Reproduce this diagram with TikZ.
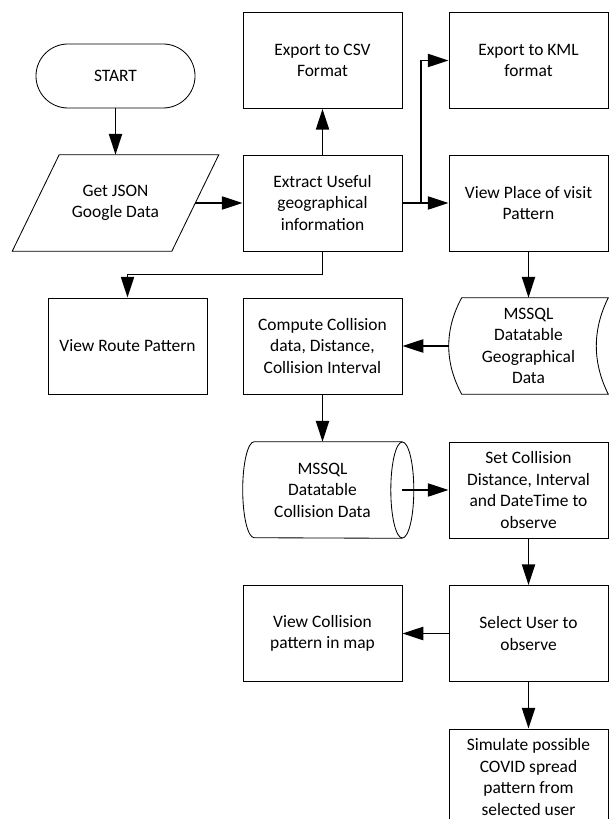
\documentclass[tikz,border=0pt]{standalone}
\usepackage{fontspec}
\setmainfont{Carlito}
\usepackage{tikz}
\usetikzlibrary{arrows.meta,calc}
\tikzset{
  boxpr/.style={draw, line width=0.6pt, rectangle, minimum width=3.975cm, minimum height=2.4cm, align=center},
  boxtm/.style={draw, line width=0.6pt, rectangle, rounded corners=0.8cm, minimum width=3.975cm, minimum height=1.6cm, align=center},
  boxdb/.style={rectangle, minimum width=3.975cm, minimum height=2.4cm, align=center},
  lineds/.style={black, line width=0.6pt},
  edgefl/.style={black, line width=1.1pt, -{Triangle[length=0.52cm, width=0.33cm]}}
}

\begin{document}
\begin{tikzpicture}[x=0.025cm, y=-0.025cm, font=\fontsize{12.4}{15.3}\selectfont]
\useasboundingbox (0,0) rectangle (610,819);
\node[boxtm] (start) at (115.5,76) {START};
\node[boxdb] (json) at (115.5,203) {Get JSON\\Google Data};
\node[boxpr] (extract) at (322.5,203) {Extract Useful\\geographical\\information};
\node[boxpr] (csv) at (322.5,60.5) {Export to CSV\\Format};
\node[boxpr] (kml) at (528.5,60.5) {Export to KML\\format};
\node[boxpr] (place) at (528.5,203) {View Place of visit\\Pattern};
\node[boxpr] (route) at (127.5,346) {View Route Pattern};
\node[boxpr] (compute) at (322.5,346) {Compute Collision\\data, Distance,\\Collision Interval};
\node[boxdb] (geo) at (528.5,346) {MSSQL\\Datatable\\Geographical\\Data};
\node[boxdb] (coll) at (322.5,490) {MSSQL\\Datatable\\Collision Data};
\node[boxpr] (set) at (528.5,490) {Set Collision\\Distance, Interval\\and DateTime to\\observe};
\node[boxpr] (select) at (528.5,633.5) {Select User to\\observe};
\node[boxpr] (viewcoll) at (322.5,633.5) {View Collision\\pattern in map};
\node[boxpr] (simulate) at (528.5,777) {Simulate possible\\COVID spread\\pattern from\\selected user};
\coordinate (fork) at (421,203);

% input outline
\draw[lineds] ($(json.north west)+(23.5,0)$) -- ($(json.north east)+(23.5,0)$)
  -- ($(json.south east)+(-23.5,0)$) -- ($(json.south west)+(-23.5,0)$) -- cycle;
% stored data outline
\draw[lineds] ($(geo.north west)+(13,0)$) -- (geo.north east)
  .. controls ($(geo.north east)+(-16,32)$) and ($(geo.south east)+(-16,-32)$) .. (geo.south east)
  -- ($(geo.south west)+(13,0)$)
  .. controls ($(geo.south west)+(-4.3,-32)$) and ($(geo.north west)+(-4.3,32)$) .. cycle;
% direct data outline
\draw[lineds] (coll.north east) -- ($(coll.north west)+(11.5,0)$)
  arc[start angle=90, end angle=270, x radius=0.2875cm, y radius=1.2cm] -- (coll.south east);
\draw[lineds] (coll.east) ellipse [x radius=0.2875cm, y radius=1.2cm];

\draw[edgefl] (start) -- (json);
\draw[edgefl] (json) -- (extract);
\draw[edgefl] (extract) -- (csv);
\draw[edgefl] (extract) -- (place);
\draw[edgefl] (fork) |- (kml);
\draw[edgefl] (extract.south) -- ++(0,23) -| (route);
\draw[edgefl] (place) -- (geo);
\draw[edgefl] (geo) -- (compute);
\draw[edgefl] (compute) -- (coll);
\draw[edgefl] (coll) -- (set);
\draw[edgefl] (set) -- (select);
\draw[edgefl] (select) -- (viewcoll);
\draw[edgefl] (select) -- (simulate);
\end{tikzpicture}
\end{document}
